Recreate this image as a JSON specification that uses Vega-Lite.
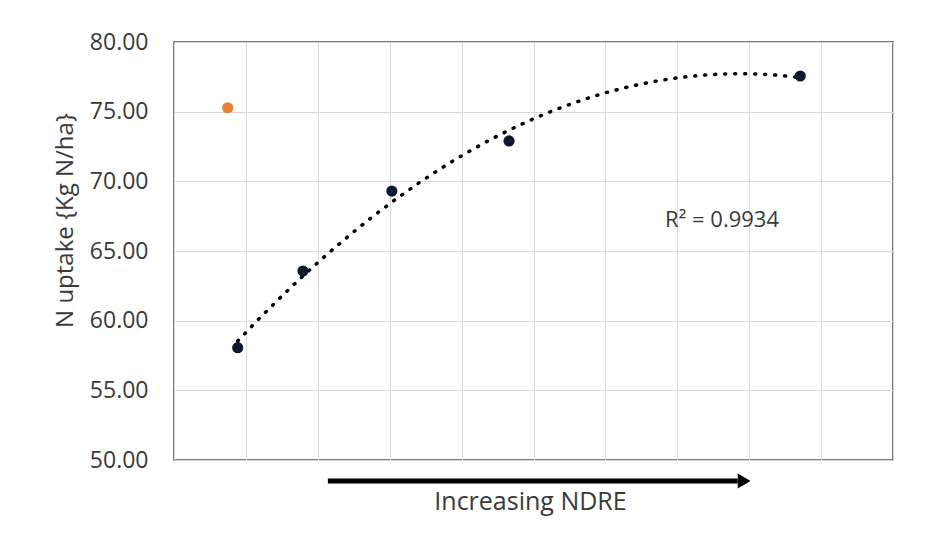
{
  "$schema": "https://vega.github.io/schema/vega-lite/v6.json",
  "width": 719,
  "height": 418,
  "autosize": {"type": "none"},
  "padding": {"left": 174, "top": 42, "right": 33, "bottom": 76},
  "background": "white",
  "config": {
    "font": "Open Sans",
    "view": {"stroke": "#4d4d4d", "strokeWidth": 1.5},
    "axis": {"gridColor": "#d9d9d9", "gridWidth": 1}
  },
  "datasets": {
    "points": [
      {"ndre": 0.747, "uptake": 75.28, "group": "outlier"},
      {"ndre": 0.886, "uptake": 58.06, "group": "data"},
      {"ndre": 1.794, "uptake": 63.56, "group": "data"},
      {"ndre": 3.03, "uptake": 69.3, "group": "data"},
      {"ndre": 4.66, "uptake": 72.9, "group": "data"},
      {"ndre": 8.71, "uptake": 77.56, "group": "data"}
    ],
    "arrow": [
      {"ndre": 2.14, "ndre_end": 7.84, "uptake": 48.49}
    ],
    "arrowhead": [
      {"ndre": 7.93, "uptake": 48.49}
    ],
    "label": [
      {"ndre": 6.83, "uptake": 67.26, "text": "R² = 0.9934"}
    ]
  },
  "layer": [
    {
      "data": {"name": "points"},
      "transform": [
        {"filter": "datum.group === 'data'"},
        {"regression": "uptake", "on": "ndre", "method": "poly", "order": 2}
      ],
      "mark": {"type": "line", "color": "black", "strokeWidth": 3.5, "strokeDash": [1, 9], "strokeCap": "round"},
      "encoding": {
        "x": {
          "field": "ndre", "type": "quantitative",
          "scale": {"domain": [0, 10], "nice": false, "zero": false},
          "axis": {
            "values": [0, 1, 2, 3, 4, 5, 6, 7, 8, 9, 10],
            "labels": false, "ticks": false, "domain": false, "grid": true,
            "title": "Increasing NDRE",
            "titleFont": "Open Sans", "titleFontSize": 25, "titleFontWeight": "normal",
            "titleColor": "#3a3a3a", "titlePadding": 29, "titleX": 356
          }
        },
        "y": {
          "field": "uptake", "type": "quantitative",
          "scale": {"domain": [50, 80], "nice": false, "zero": false},
          "axis": {
            "values": [50, 55, 60, 65, 70, 75, 80],
            "format": ".2f", "ticks": false, "tickSize": 0, "domain": false, "grid": true,
            "labelFont": "Open Sans", "labelFontSize": 23, "labelColor": "#3a3a3a", "labelPadding": 26,
            "title": "N uptake {Kg N/ha}",
            "titleFont": "Open Sans", "titleFontSize": 24, "titleFontWeight": "normal",
            "titleColor": "#3a3a3a", "titlePadding": 12, "titleY": 178
          }
        }
      }
    },
    {
      "data": {"name": "points"},
      "mark": {"type": "point", "filled": true, "size": 125, "opacity": 1},
      "encoding": {
        "x": {"field": "ndre", "type": "quantitative"},
        "y": {"field": "uptake", "type": "quantitative"},
        "color": {
          "field": "group", "type": "nominal",
          "scale": {"domain": ["data", "outlier"], "range": ["#0b1a30", "#ED7D31"]},
          "legend": null
        }
      }
    },
    {
      "data": {"name": "arrow"},
      "mark": {"type": "rule", "color": "black", "strokeWidth": 5},
      "encoding": {
        "x": {"field": "ndre", "type": "quantitative"},
        "x2": {"field": "ndre_end"},
        "y": {"field": "uptake", "type": "quantitative"}
      }
    },
    {
      "data": {"name": "arrowhead"},
      "mark": {"type": "point", "shape": "triangle-right", "filled": true, "color": "black", "size": 220, "opacity": 1},
      "encoding": {
        "x": {"field": "ndre", "type": "quantitative"},
        "y": {"field": "uptake", "type": "quantitative"}
      }
    },
    {
      "data": {"name": "label"},
      "mark": {"type": "text", "align": "left", "baseline": "middle", "font": "Open Sans", "fontSize": 22, "color": "#3a3a3a"},
      "encoding": {
        "x": {"field": "ndre", "type": "quantitative"},
        "y": {"field": "uptake", "type": "quantitative"},
        "text": {"field": "text"}
      }
    }
  ]
}
